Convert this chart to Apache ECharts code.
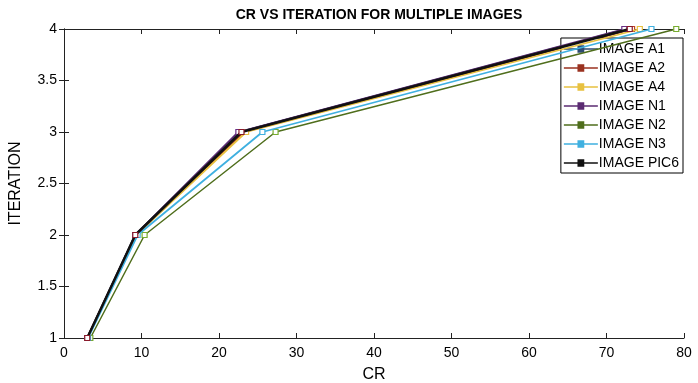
<!DOCTYPE html>
<html><head><meta charset="utf-8">
<script src="https://cdn.jsdelivr.net/npm/echarts@6/dist/echarts.min.js"></script>
<style>html,body{margin:0;padding:0;background:#fff}#c{width:698px;height:383px}</style>
</head><body><div id="c"></div>
<script>
const iterations = [1, 2, 3, 4];
const seriesNames = ['IMAGE A1','IMAGE A2','IMAGE A4','IMAGE N1','IMAGE N2','IMAGE N3','IMAGE PIC6'];
const crA1   = [3.0, 9.2, 22.6, 72.5];
const crA2   = [3.0, 9.3, 23.2, 73.3];
const crA4   = [3.0, 9.3, 23.5, 74.3];
const crN1   = [3.0, 9.2, 22.5, 72.3];
const crN2   = [3.4, 10.4, 27.3, 79.0];
const crN3   = [3.1, 9.5, 25.6, 75.8];
const crPIC6 = [3.0, 9.2, 22.9, 73.0];
const xTicks = [0, 10, 20, 30, 40, 50, 60, 70, 80];
const yTicks = [1, 1.5, 2, 2.5, 3, 3.5, 4];

const crData = [crA1, crA2, crA4, crN1, crN2, crN3, crPIC6];
const lineColors = ['#2f4b72', '#9a3220', '#e8c140', '#5b2b72', '#4f6e1c', '#3fb0e0', '#111111'];
const markColors = ['#2f4b72', '#c0451f', '#e8c140', '#6a2f85', '#77ac30', '#3fb0e0', '#8a1a2a'];
const widths = [1.8, 2.0, 1.8, 1.8, 1.5, 1.8, 2.5];

const font = 'Liberation Sans, Arial, Helvetica, sans-serif';
const legendIcon = 'path://M0,3.4H12V0.6H18V3.4H30V4.6H18V7.4H12V4.6H0Z M13.2,1.8H16.8V6.2H13.2Z';
const chart = echarts.init(document.getElementById('c'), null, {renderer: 'canvas'});
const series = seriesNames.map((n, i) => ({
  name: n, type: 'line',
  data: crData[i].map((x, k) => [x, iterations[k]]),
  symbol: 'rect', symbolSize: 5, showSymbol: true,
  lineStyle: {color: lineColors[i], width: widths[i]},
  itemStyle: {color: '#fff', borderColor: markColors[i], borderWidth: 1.2},
  z: 2 + i, animation: false
}));
const axisLine = {show: true, lineStyle: {color: '#222', width: 1}};
chart.setOption({
  animation: false,
  title: {text: 'CR VS ITERATION FOR MULTIPLE IMAGES', left: 374, top: 3, textAlign: 'center',
    textStyle: {fontFamily: font, fontSize: 14, fontWeight: 'bold', color: '#000'}},
  grid: {left: 64, right: 14, top: 29, bottom: 45, containLabel: false, outerBoundsMode: 'none'},
  legend: {
    data: seriesNames.map((n, i) => ({name: n, icon: legendIcon,
      itemStyle: {color: lineColors[i], borderWidth: 0}})),
    orient: 'vertical', right: 15, top: 38,
    backgroundColor: '#fff', borderColor: '#000', borderWidth: 1,
    padding: [3, 4, 2, 3], itemGap: 3, itemWidth: 34, itemHeight: 9,
    textStyle: {fontFamily: font, fontSize: 14, color: '#000', padding: [0, 0, 0, -4], lineHeight: 16}
  },
  xAxis: [{
    type: 'value', min: 0, max: 80, interval: 10, position: 'bottom',
    name: 'CR', nameLocation: 'middle', nameGap: 29,
    nameTextStyle: {fontFamily: font, fontSize: 16, color: '#000'},
    axisLine: axisLine, axisTick: {show: true, inside: true, length: 5, lineStyle: {color: '#222'}},
    axisLabel: {fontFamily: font, fontSize: 14, color: '#000', margin: 8,
      formatter: v => xTicks.includes(v) ? String(v) : ''},
    splitLine: {show: false}
  }, {
    type: 'value', min: 0, max: 80, interval: 10, position: 'top',
    axisLine: axisLine, axisTick: {show: true, inside: true, length: 5, lineStyle: {color: '#222'}},
    axisLabel: {show: false}, splitLine: {show: false}
  }],
  yAxis: [{
    type: 'value', min: 1, max: 4, interval: 0.5, position: 'left',
    name: 'ITERATION', nameLocation: 'middle', nameGap: 40, nameRotate: 90,
    nameTextStyle: {fontFamily: font, fontSize: 16, color: '#000'},
    axisLine: axisLine, axisTick: {show: true, inside: true, length: 5, lineStyle: {color: '#222'}},
    axisLabel: {fontFamily: font, fontSize: 14, color: '#000', margin: 7,
      formatter: v => yTicks.includes(v) ? String(v) : ''},
    splitLine: {show: false}
  }, {
    type: 'value', min: 1, max: 4, interval: 0.5, position: 'right',
    axisLine: axisLine, axisTick: {show: true, inside: true, length: 5, lineStyle: {color: '#222'}},
    axisLabel: {show: false}, splitLine: {show: false}
  }],
  series: series
});
</script></body></html>
